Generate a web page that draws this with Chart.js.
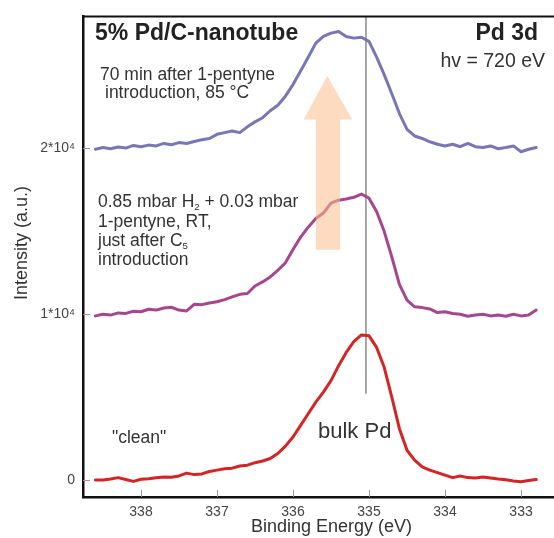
<!DOCTYPE html>
<html>
<head>
<meta charset="utf-8">
<script src="https://cdn.jsdelivr.net/npm/chart.js"></script>
<style>
  body { margin: 0; overflow: hidden; background: #fff; }
</style>
</head>
<body>
<canvas id="xps-chart" width="580" height="538"></canvas>
<script>
// binding energy (eV), one point per 0.1 eV
const energies = [
  338.6, 338.5, 338.4, 338.3, 338.2, 338.1, 338.0, 337.9, 337.8, 337.7,
  337.6, 337.5, 337.4, 337.3, 337.2, 337.1, 337.0, 336.9, 336.8, 336.7,
  336.6, 336.5, 336.4, 336.3, 336.2, 336.1, 336.0, 335.9, 335.8, 335.7,
  335.6, 335.5, 335.4, 335.3, 335.2, 335.1, 335.0, 334.9, 334.8, 334.7,
  334.6, 334.5, 334.4, 334.3, 334.2, 334.1, 334.0, 333.9, 333.8, 333.7,
  333.6, 333.5, 333.4, 333.3, 333.2, 333.1, 333.0, 332.9, 332.8,
];

// "clean"
const cleanCounts = [
  0, 10, 60, 150, 40, -80, 50, 80, 140, 180,
  170, 250, 420, 330, 370, 520, 600, 680, 720, 850,
  900, 1050, 1150, 1300, 1600, 2050, 2600, 3300, 4000, 4700,
  5300, 6000, 6900, 7700, 8350, 8750, 8700, 8000, 6800, 5000,
  3100, 1800, 1200, 800, 600, 450, 300, 150, 250, 150,
  130, 180, 120, 60, 20, -50, -100, -20, 30,
];

// 0.85 mbar H2 + 0.03 mbar 1-pentyne, RT
const rtCounts = [
  9900, 10000, 9950, 10080, 10050, 10180, 10150, 10300, 10250, 10380,
  10420, 10250, 10200, 10600, 10580, 10680, 10750, 10880, 11050, 11200,
  11250, 11700, 11950, 12250, 12650, 13100, 13900, 14650, 15250, 15770,
  16100, 16700, 16880, 16950, 17050, 17250, 17000, 16200, 15000, 13450,
  11800, 10850, 10450, 10400, 10320, 10100, 10150, 10050, 10000, 9880,
  9950, 10000, 9900, 9950, 9880, 10000, 9900, 9950, 10250,
];

// 70 min after 1-pentyne introduction, 85 °C
const hotCounts = [
  19950, 20050, 19980, 20080, 20020, 20180, 20100, 20200, 20150, 20300,
  20220, 20350, 20300, 20420, 20520, 20600, 20850, 20950, 21050, 20950,
  21300, 21600, 21850, 22270, 22600, 23150, 23850, 24670, 25500, 26350,
  26750, 26950, 27050, 26750, 26650, 26700, 26450, 25500, 24450, 23300,
  22100, 21150, 20750, 20600, 20400, 20250, 20150, 20250, 20100, 20300,
  20100, 20050, 20150, 19980, 20050, 20150, 19800, 19950, 20050,
];

const xTicks = [338, 337, 336, 335, 334, 333];
const yTicks = [0, 10000, 20000];
const yTickLabels = ["0", "1*10⁴", "2*10⁴"];

const bulkPdEnergy = 335.04;

const FONT = "'Liberation Sans', Arial, 'DejaVu Sans', sans-serif";

// text with optional subscript pieces
function drawParts(ctx, parts, x, y, size) {
  let cx = x;
  parts.forEach(([text, sub]) => {
    ctx.font = (sub ? size * 0.55 : size) + "px " + FONT;
    ctx.fillText(text, cx, sub ? y + size * 0.32 : y);
    cx += ctx.measureText(text).width;
  });
}

const overlay = {
  id: "overlay",
  beforeDatasetsDraw(chart) {
    const { ctx, chartArea, scales: { x, y } } = chart;
    const px = x.getPixelForValue(bulkPdEnergy);
    ctx.save();
    ctx.strokeStyle = "#8a8a8a";
    ctx.lineWidth = 1.5;
    ctx.beginPath();
    ctx.moveTo(px, chartArea.top);
    ctx.lineTo(px, y.getPixelForValue(5200));
    ctx.stroke();
    ctx.restore();
  },
  afterDatasetsDraw(chart) {
    const { ctx, chartArea, scales: { x, y } } = chart;
    ctx.save();

    // arrow
    ctx.fillStyle = "rgba(250, 190, 140, 0.55)";
    ctx.beginPath();
    ctx.moveTo(x.getPixelForValue(335.55), y.getPixelForValue(24370));
    ctx.lineTo(x.getPixelForValue(335.22), y.getPixelForValue(21740));
    ctx.lineTo(x.getPixelForValue(335.38), y.getPixelForValue(21740));
    ctx.lineTo(x.getPixelForValue(335.38), y.getPixelForValue(13890));
    ctx.lineTo(x.getPixelForValue(335.70), y.getPixelForValue(13890));
    ctx.lineTo(x.getPixelForValue(335.70), y.getPixelForValue(21740));
    ctx.lineTo(x.getPixelForValue(335.86), y.getPixelForValue(21740));
    ctx.closePath();
    ctx.fill();

    // inward tick marks
    ctx.strokeStyle = "#9a9a9a";
    ctx.lineWidth = 1;
    ctx.beginPath();
    xTicks.forEach((v) => {
      const px = Math.round(x.getPixelForValue(v)) + 0.5;
      ctx.moveTo(px, chartArea.bottom);
      ctx.lineTo(px, chartArea.bottom - 7);
    });
    yTicks.forEach((v) => {
      const py = Math.round(y.getPixelForValue(v)) + 0.5;
      ctx.moveTo(chartArea.left, py);
      ctx.lineTo(chartArea.left + 7, py);
    });
    ctx.stroke();

    // top frame line
    ctx.strokeStyle = "#111";
    ctx.lineWidth = 2;
    ctx.beginPath();
    ctx.moveTo(chartArea.left, chartArea.top);
    ctx.lineTo(chartArea.right, chartArea.top);
    ctx.stroke();

    // labels
    ctx.textBaseline = "middle";
    ctx.fillStyle = "#222";
    ctx.font = "bold 23px " + FONT;
    ctx.textAlign = "left";
    ctx.fillText("5% Pd/C-nanotube", 95, 34);
    ctx.textAlign = "right";
    ctx.fillText("Pd 3d", 538, 34);
    ctx.fillStyle = "#333";
    ctx.font = "19.5px " + FONT;
    ctx.fillText("hv = 720 eV", 545, 62);

    ctx.textAlign = "left";
    ctx.font = "17.5px " + FONT;
    ctx.fillText("70 min after 1-pentyne", 100, 75);
    ctx.fillText("introduction, 85 °C", 105, 93);

    drawParts(ctx, [["0.85 mbar H"], ["2", true], [" + 0.03 mbar"]], 98, 202, 17.5);
    drawParts(ctx, [["1-pentyne, RT,"]], 98, 222, 17.5);
    drawParts(ctx, [["just after C"], ["5", true]], 98, 241, 17.5);
    drawParts(ctx, [["introduction"]], 98, 260, 17.5);

    ctx.font = "17.5px " + FONT;
    ctx.fillText('"clean"', 112, 438);
    ctx.font = "22px " + FONT;
    ctx.fillText("bulk Pd", 318, 432);

    // y axis title
    ctx.translate(22, 243);
    ctx.rotate(-Math.PI / 2);
    ctx.textAlign = "center";
    ctx.font = "18px " + FONT;
    ctx.fillText("Intensity (a.u.)", 0, 0);

    ctx.restore();
  },
};

const ctx = document.getElementById("xps-chart").getContext("2d");
const chart = new Chart(ctx, {
  type: "line",
  data: {
    datasets: [
      {
        label: "clean",
        data: energies.map((e, i) => ({ x: e, y: cleanCounts[i] })),
        borderColor: "#d42424",
      },
      {
        label: "H2 + 1-pentyne, RT",
        data: energies.map((e, i) => ({ x: e, y: rtCounts[i] })),
        borderColor: "#a6468e",
      },
      {
        label: "85 °C",
        data: energies.map((e, i) => ({ x: e, y: hotCounts[i] })),
        borderColor: "#7a76b6",
      },
    ],
  },
  options: {
    responsive: false,
    animation: false,
    layout: { padding: { top: 13, right: 0, bottom: 0, left: 0 } },
    elements: {
      point: { radius: 0 },
      line: { borderWidth: 3, tension: 0, borderCapStyle: "round", borderJoinStyle: "round" },
    },
    plugins: {
      legend: { display: false },
      tooltip: { enabled: false },
    },
    scales: {
      x: {
        type: "linear",
        reverse: true,
        min: 332.224,
        max: 338.763,
        afterFit: (scale) => { scale.height = 41; },
        afterBuildTicks: (scale) => { scale.ticks = xTicks.map((v) => ({ value: v })); },
        grid: { display: false, drawTicks: false },
        border: { display: true, color: "#111", width: 2.5 },
        ticks: {
          padding: 7,
          color: "#444",
          font: { family: FONT, size: 14 },
          callback: (v) => String(v),
        },
        title: {
          display: true,
          text: "Binding Energy (eV)",
          color: "#333",
          font: { family: FONT, size: 18 },
          padding: 0,
        },
      },
      y: {
        min: -1020,
        max: 27960,
        afterFit: (scale) => { scale.width = 83; },
        afterBuildTicks: (scale) => { scale.ticks = yTicks.map((v) => ({ value: v })); },
        grid: { display: false, drawTicks: false },
        border: { display: true, color: "#111", width: 2.5 },
        ticks: {
          padding: 8,
          color: "#444",
          font: { family: FONT, size: 14 },
          callback: (v) => yTickLabels[yTicks.indexOf(v)],
        },
      },
    },
  },
  plugins: [overlay],
});
</script>
</body>
</html>
